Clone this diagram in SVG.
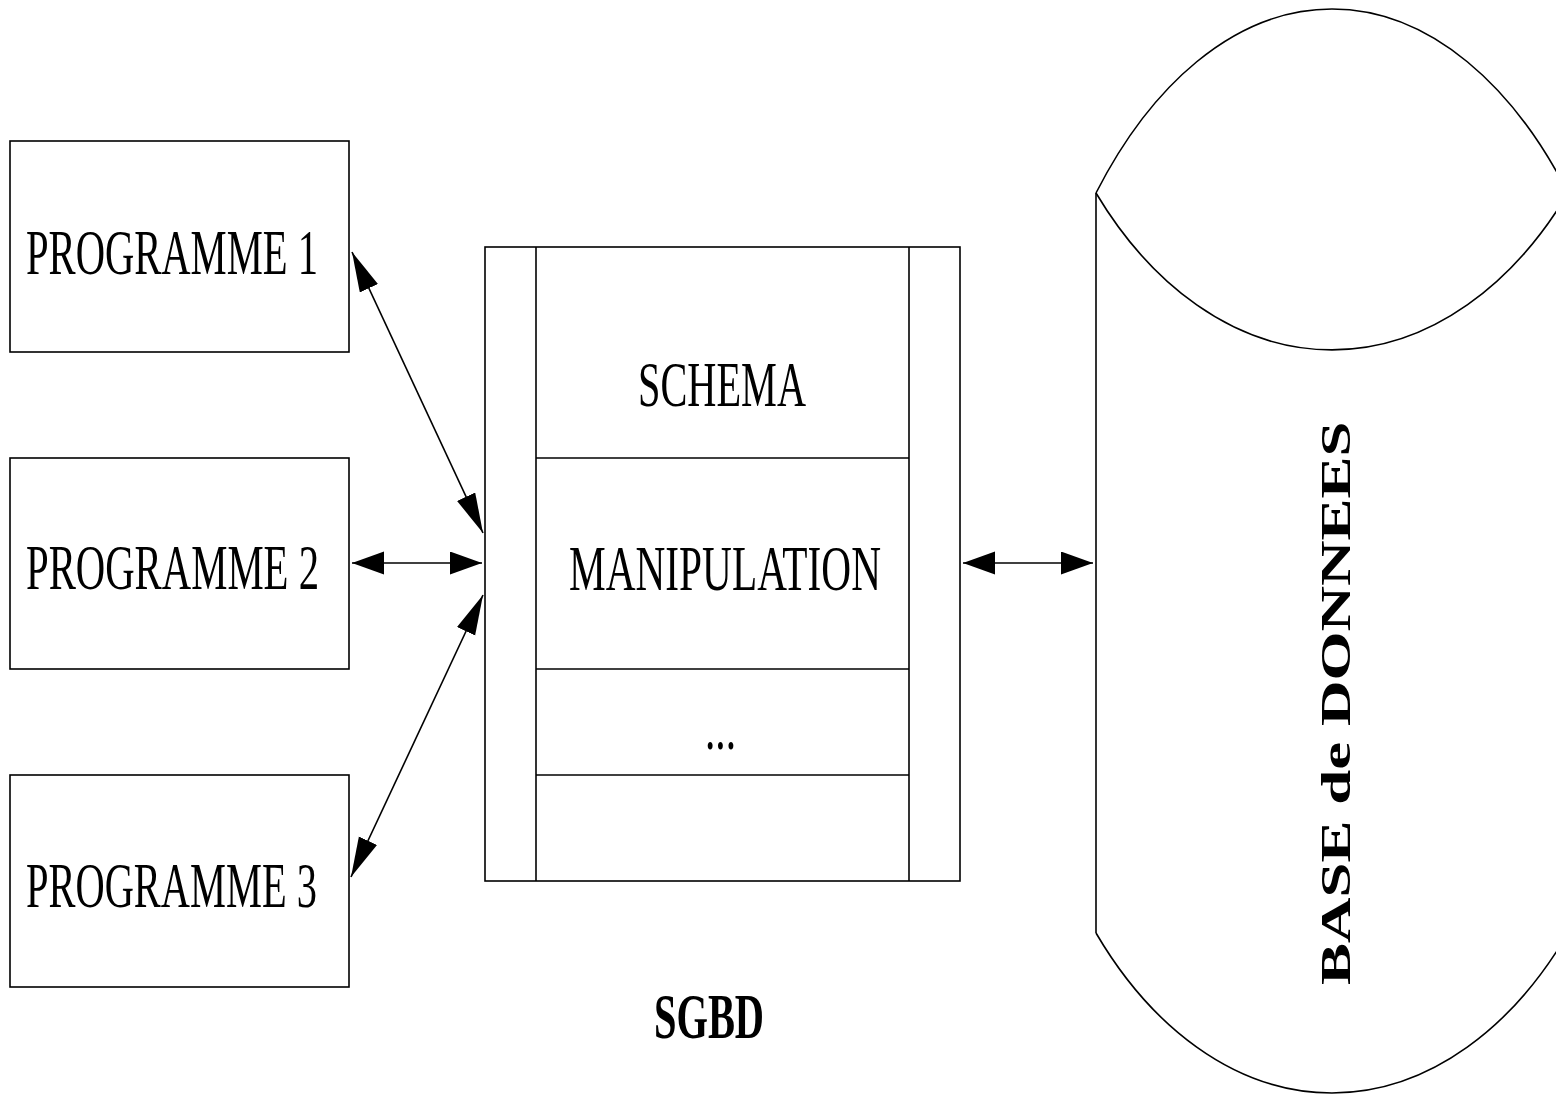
<svg xmlns="http://www.w3.org/2000/svg" width="1556" height="1095" viewBox="0 0 1556 1095">
<style>
.box{fill:none;stroke:#000;stroke-width:1.6}
.t{font-family:"Liberation Serif","Times New Roman",serif;font-size:63px;fill:#000}
.b{font-weight:bold}
.c{fill:none;stroke:#000;stroke-width:1.6}
</style>
<defs>
<marker id="ad" markerUnits="userSpaceOnUse" markerWidth="42" markerHeight="22" refX="40" refY="10" orient="auto-start-reverse" viewBox="0 0 42 22">
<path d="M0,0 L40,10 L0,20 Z" fill="#000"/>
</marker>
<marker id="ah" markerUnits="userSpaceOnUse" markerWidth="34" markerHeight="24" refX="32" refY="11.5" orient="auto-start-reverse" viewBox="0 0 34 24">
<path d="M0,0 L32,11.5 L0,23 Z" fill="#000"/>
</marker>
</defs>
<rect width="1556" height="1095" fill="#fff"/>
<g id="prog1">
<rect class="box" x="10" y="141" width="339" height="211"/>
<text class="t" x="26" y="274" textLength="292" lengthAdjust="spacingAndGlyphs">PROGRAMME 1</text>
</g>
<g id="prog2">
<rect class="box" x="10" y="458" width="339" height="211"/>
<text class="t" x="26" y="589" textLength="293" lengthAdjust="spacingAndGlyphs">PROGRAMME 2</text>
</g>
<g id="prog3">
<rect class="box" x="10" y="775" width="339" height="212"/>
<text class="t" x="26" y="907" textLength="291" lengthAdjust="spacingAndGlyphs">PROGRAMME 3</text>
</g>
<g id="sgbd">
<rect class="box" x="485" y="247" width="475" height="634"/>
<line class="box" x1="536" y1="247" x2="536" y2="881"/>
<line class="box" x1="909" y1="247" x2="909" y2="881"/>
<line class="box" x1="536" y1="458" x2="909" y2="458"/>
<line class="box" x1="536" y1="669" x2="909" y2="669"/>
<line class="box" x1="536" y1="775" x2="909" y2="775"/>
<text class="t" x="638" y="406" textLength="168" lengthAdjust="spacingAndGlyphs">SCHEMA</text>
<text class="t" x="569" y="590" textLength="312" lengthAdjust="spacingAndGlyphs">MANIPULATION</text>
<text class="t" x="705" y="749" textLength="31" lengthAdjust="spacingAndGlyphs">...</text>
<text class="t b" x="654" y="1038" textLength="110" lengthAdjust="spacingAndGlyphs">SGBD</text>
</g>
<g id="base">
<path class="box" d="M1096,193 A314,540.5 0 0 1 1568,193"/>
<path class="box" d="M1096,193 A314,461 0 0 0 1568,193"/>
<path class="box" d="M1096,933 A314,470 0 0 0 1568,933"/>
<line class="box" x1="1096" y1="193" x2="1096" y2="933"/>
<text class="t b" transform="translate(1350,985) scale(0.67,1) rotate(-90)" x="0" y="0">BASE de DONNEES</text>
</g>
<g id="connectors">
<line class="c" x1="352" y1="252" x2="483" y2="533" marker-start="url(#ad)" marker-end="url(#ad)"/>
<line class="c" x1="352" y1="563" x2="482" y2="563" marker-start="url(#ah)" marker-end="url(#ah)"/>
<line class="c" x1="483" y1="595" x2="351" y2="877" marker-start="url(#ad)" marker-end="url(#ad)"/>
<line class="c" x1="963" y1="563" x2="1093" y2="563" marker-start="url(#ah)" marker-end="url(#ah)"/>
</g>
</svg>
